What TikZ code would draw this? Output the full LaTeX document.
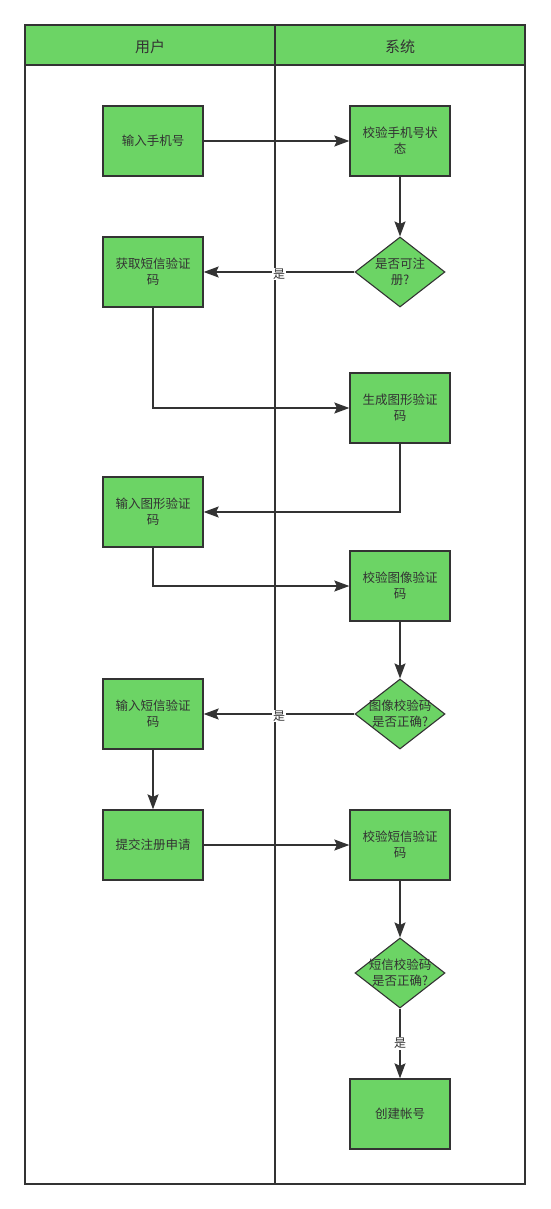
\documentclass[tikz,border=0pt]{standalone}
\usepackage{fontspec}
\newfontfamily\cjk{Noto Sans CJK SC}
\usetikzlibrary{arrows.meta,positioning,shapes.geometric}
\definecolor{lanegreen}{HTML}{6CD465}
\definecolor{inkgray}{HTML}{333333}
\newcommand{\zw}[1]{\makebox[0pt]{#1}}

\begin{document}
\begin{tikzpicture}[x=1pt,y=-1pt, font=\cjk\fontsize{12.5}{16}\selectfont, text=inkgray,
 box/.style={draw=inkgray,fill=lanegreen,line width=1.3pt,minimum width=100pt,minimum height=70pt,align=center,inner sep=0pt},
 dec/.style={diamond,draw=inkgray,fill=lanegreen,line width=1.1pt,minimum width=90pt,minimum height=70pt,align=center,inner sep=0pt},
 a/.style={-{Stealth[length=15pt,width=11pt,inset=2.5pt]},line width=1.4pt,draw=inkgray},
 yes/.style={fill=white,inner sep=1pt,yshift=-2pt,font=\cjk\fontsize{12}{14}\selectfont}]
\useasboundingbox (0,0) rectangle (550,1209);
% swimlanes
\draw[inkgray,line width=1.5pt,fill=lanegreen] (25,25) rectangle (525,65);
\draw[inkgray,line width=1.5pt] (25,25) rectangle (525,1184);
\draw[inkgray,line width=1.5pt] (275,25) -- (275,1184);
\draw[inkgray,line width=1.5pt] (25,65) -- (525,65);
\node[font=\cjk\fontsize{15}{18}\selectfont] (u) at (150,47) {用户};
\node[font=\cjk\fontsize{15}{18}\selectfont] (s) at (400,47) {系统};
% user lane
\node[box] (phone) at (153,141) {输入手机号};
\node[box] (getsms) at (153,272) {获取短信验证\\码};
\node[box] (inimg) at (153,512) {输入图形验证\\码};
\node[box] (insms) at (153,714) {输入短信验证\\码};
\node[box] (submit) at (153,845) {提交注册申请};
% system lane
\node[box] (chkphone) at (400,141) {校验手机号状\\态};
\node[dec] (canreg) at (400,272) {\zw{是否可注}\\\zw{册?}};
\node[box] (genimg) at (400,408) {生成图形验证\\码};
\node[box] (chkimg) at (400,586) {校验图像验证\\码};
\node[dec] (imgok) at (400,714) {\zw{图像校验码}\\\zw{是否正确?}};
\node[box] (chksms) at (400,845) {校验短信验证\\码};
\node[dec] (smsok) at (400,973) {\zw{短信校验码}\\\zw{是否正确?}};
\node[box] (create) at (400,1114) {创建帐号};
% flow
\draw[a] (phone)--(chkphone);
\draw[a] (chkphone)--(canreg);
\draw[a] (canreg)--node[yes]{是}(getsms);
\draw[a] (getsms.south)|-(genimg.west);
\draw[a] (genimg.south)|-(inimg.east);
\draw[a] (inimg.south)|-(chkimg.west);
\draw[a] (chkimg)--(imgok);
\draw[a] (imgok)--node[yes]{是}(insms);
\draw[a] (insms)--(submit);
\draw[a] (submit)--(chksms);
\draw[a] (chksms)--(smsok);
\draw[a] (smsok)--node[yes,yshift=2pt]{是}(create);
\end{tikzpicture}
\end{document}
